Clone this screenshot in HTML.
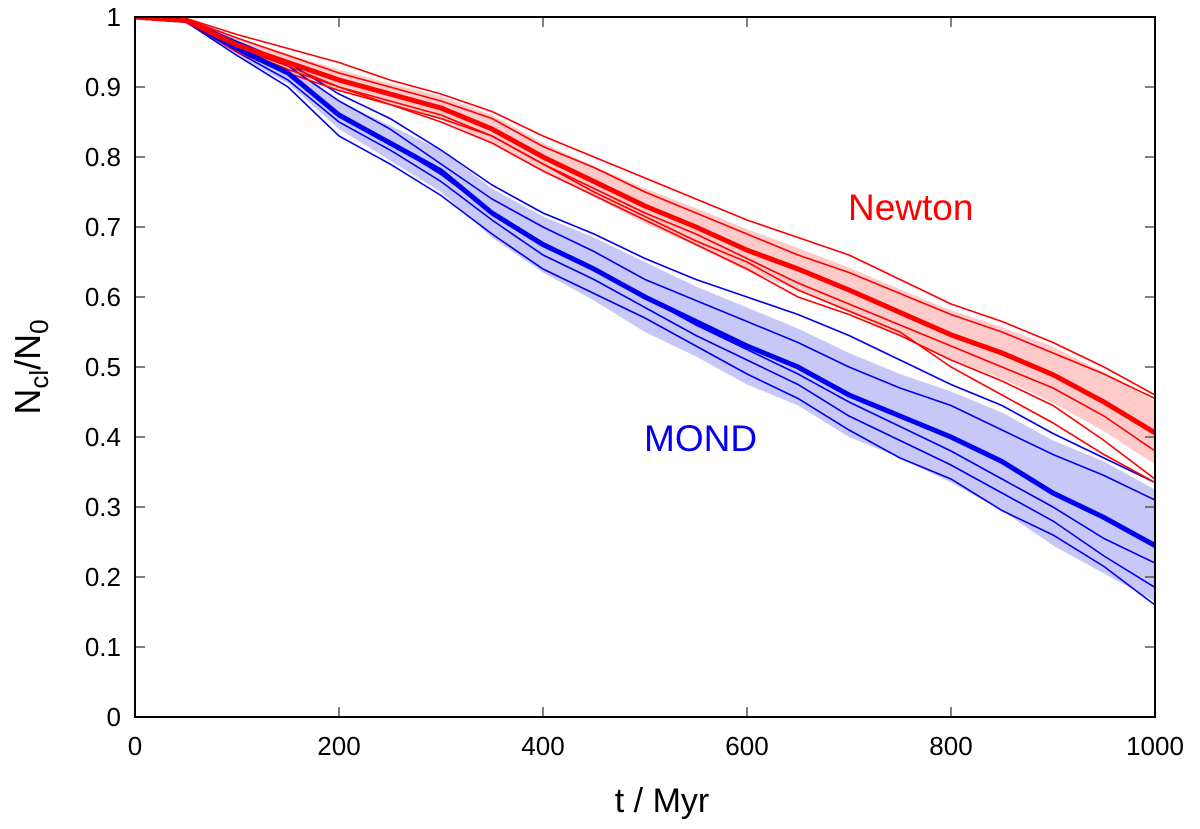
<!DOCTYPE html>
<html><head><meta charset="utf-8"><style>
html,body{margin:0;padding:0;background:#fff;}
svg{display:block;font-family:"Liberation Sans",sans-serif;}
</style></head><body>
<svg id="chart" width="1200" height="829" viewBox="0 0 1200 829"></svg>
<script>
const times=[0,50,100,150,200,250,300,350,400,450,500,550,600,650,700,750,800,850,900,950,1000];
const newtonMean=[1,0.995,0.96,0.935,0.91,0.89,0.87,0.84,0.80,0.765,0.73,0.70,0.667,0.64,0.61,0.578,0.546,0.52,0.489,0.45,0.406];
const newtonSd=[0,0.002,0.01,0.012,0.015,0.015,0.017,0.02,0.02,0.022,0.025,0.027,0.03,0.03,0.032,0.033,0.035,0.037,0.04,0.042,0.045];
const newtonRun1=[1,0.998,0.975,0.955,0.935,0.91,0.89,0.865,0.83,0.8,0.77,0.74,0.71,0.685,0.66,0.625,0.59,0.565,0.535,0.5,0.46];
const newtonRun2=[1,0.997,0.97,0.945,0.92,0.9,0.88,0.855,0.815,0.785,0.75,0.72,0.69,0.66,0.635,0.605,0.575,0.55,0.52,0.49,0.455];
const newtonRun3=[1,0.995,0.955,0.93,0.9,0.88,0.86,0.83,0.79,0.755,0.72,0.69,0.655,0.62,0.59,0.56,0.53,0.5,0.47,0.43,0.38];
const newtonRun4=[1,0.993,0.95,0.92,0.895,0.875,0.85,0.82,0.78,0.745,0.71,0.675,0.64,0.6,0.575,0.545,0.51,0.48,0.445,0.395,0.34];
const newtonRun5=[1,0.994,0.955,0.925,0.9,0.875,0.855,0.83,0.79,0.75,0.715,0.68,0.65,0.61,0.58,0.55,0.5,0.46,0.42,0.375,0.335];
const mondMean=[1,0.995,0.955,0.92,0.86,0.82,0.78,0.72,0.675,0.64,0.6,0.565,0.53,0.5,0.46,0.43,0.40,0.365,0.32,0.285,0.245];
const mondSd=[0,0.002,0.01,0.015,0.02,0.025,0.03,0.035,0.04,0.045,0.05,0.05,0.055,0.055,0.06,0.06,0.065,0.07,0.075,0.08,0.08];
const mondRun1=[1,0.997,0.965,0.935,0.89,0.855,0.81,0.76,0.72,0.69,0.655,0.625,0.6,0.575,0.545,0.51,0.475,0.445,0.405,0.37,0.335];
const mondRun2=[1,0.996,0.96,0.93,0.88,0.84,0.79,0.74,0.7,0.665,0.625,0.595,0.565,0.535,0.5,0.47,0.445,0.41,0.375,0.345,0.31];
const mondRun3=[1,0.995,0.955,0.92,0.86,0.82,0.775,0.72,0.675,0.64,0.6,0.56,0.525,0.49,0.45,0.415,0.38,0.34,0.3,0.255,0.22];
const mondRun4=[1,0.994,0.95,0.91,0.85,0.81,0.765,0.71,0.66,0.625,0.585,0.545,0.51,0.475,0.43,0.395,0.36,0.32,0.28,0.23,0.185];
const mondRun5=[1,0.993,0.945,0.9,0.83,0.79,0.745,0.69,0.64,0.605,0.57,0.53,0.49,0.455,0.41,0.37,0.34,0.295,0.26,0.215,0.16];
const xTicks=[0,200,400,600,800,1000];
const yTicks=[0,0.1,0.2,0.3,0.4,0.5,0.6,0.7,0.8,0.9,1];
const yTickLabels=["0","0.1","0.2","0.3","0.4","0.5","0.6","0.7","0.8","0.9","1"];

const L=135,R=1155,T=17,B=717;
const xs=t=>L+(t/1000)*(R-L);
const ys=v=>B-v*(B-T);
const svg=document.getElementById('chart');
const NS='http://www.w3.org/2000/svg';
function mk(tag,attrs,parent){const e=document.createElementNS(NS,tag);for(const k in attrs)e.setAttribute(k,attrs[k]);(parent||svg).appendChild(e);return e;}
function pts(arr){return arr.map((v,i)=>xs(times[i]).toFixed(1)+','+ys(v).toFixed(1)).join(' ');}
function band(mean,sd){const up=mean.map((m,i)=>xs(times[i]).toFixed(1)+','+ys(m+sd[i]).toFixed(1));const lo=mean.map((m,i)=>xs(times[i]).toFixed(1)+','+ys(m-sd[i]).toFixed(1)).reverse();return up.concat(lo).join(' ');}

const clip=mk('clipPath',{id:'pc'});mk('rect',{x:L,y:T,width:R-L,height:B-T},clip);
const g=mk('g',{'clip-path':'url(#pc)'});

let e;
e=mk('polygon',{points:band(mondMean,mondSd),fill:'#c8c8f8',stroke:'none'},g);


e=mk('polygon',{points:band(newtonMean,newtonSd),fill:'#ffcaca',stroke:'none'},g);



[mondRun1,mondRun2,mondRun3,mondRun4,mondRun5].forEach((r,i)=>{
  const p=mk('polyline',{points:pts(r),fill:'none',stroke:'#0000ee','stroke-width':1.6},g);
  
  
});
[newtonRun1,newtonRun2,newtonRun3,newtonRun4,newtonRun5].forEach((r,i)=>{
  const p=mk('polyline',{points:pts(r),fill:'none',stroke:'#ff0000','stroke-width':1.6},g);
  
  
});
e=mk('polyline',{points:pts(mondMean),fill:'none',stroke:'#0000ee','stroke-width':5},g);


e=mk('polyline',{points:pts(newtonMean),fill:'none',stroke:'#ff0000','stroke-width':5},g);



xTicks.forEach(t=>{
  const x=xs(t);
  mk('line',{x1:x,y1:B,x2:x,y2:B-10,stroke:'#555','stroke-width':1.5});
  mk('line',{x1:x,y1:T,x2:x,y2:T+10,stroke:'#555','stroke-width':1.5});
  const tx=mk('text',{x:x,y:755,'font-size':26,'text-anchor':'middle',fill:'#000'});
  tx.textContent=String(t);
  
  
});
yTicks.forEach((v,i)=>{
  const y=ys(v);
  mk('line',{x1:L,y1:y,x2:L+10,y2:y,stroke:'#555','stroke-width':1.5});
  mk('line',{x1:R,y1:y,x2:R-10,y2:y,stroke:'#555','stroke-width':1.5});
  const tx=mk('text',{x:121,y:y+9,'font-size':26,'text-anchor':'end',fill:'#000'});
  tx.textContent=yTickLabels[i];
  
  
});
e=mk('rect',{x:L,y:T,width:R-L,height:B-T,fill:'none',stroke:'#000','stroke-width':2});



e=mk('text',{x:662,y:812,'font-size':34,'text-anchor':'middle',fill:'#000'});
e.textContent='t / Myr';



e=mk('text',{transform:'translate(40,367) rotate(-90)','font-size':36,'text-anchor':'middle',fill:'#000'});
e.innerHTML='N<tspan font-size="26" dy="8">cl</tspan><tspan dy="-8">/N</tspan><tspan font-size="26" dy="8">0</tspan>';



e=mk('text',{x:848,y:220,'font-size':37,fill:'#ff0000'});
e.textContent='Newton';


e=mk('text',{x:644,y:451,'font-size':37,fill:'#0000ee'});
e.textContent='MOND';


</script>
</body></html>
